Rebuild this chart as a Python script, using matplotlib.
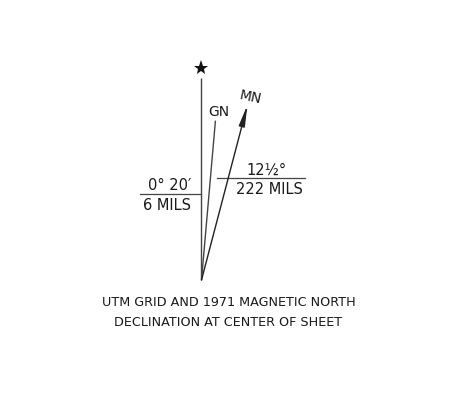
import numpy as np
import matplotlib.pyplot as plt

# Data: the declination diagram
line_names = ["TN", "GN", "MN"]
drawn_angles_deg = [0.0, 5.0, 14.7]      # drawn (exaggerated) angle from true north
line_lengths = [202, 160, 181]           # drawn lengths
grid_decl_label = ["0° 20′", "6 MILS"]
mag_decl_label = ["12½°", "222 MILS"]
caption = ["UTM GRID AND 1971 MAGNETIC NORTH", "DECLINATION AT CENTER OF SHEET"]

W, H = 460, 416
fig = plt.figure(figsize=(W / 100, H / 100), dpi=100)
ax = fig.add_axes([0, 0, 1, 1])
ax.set_xlim(0, W)
ax.set_ylim(H, 0)
ax.axis("off")

vx, vy = 201.5, 280
lc = "#444444"
ends = {}
for name, ang, L in zip(line_names, drawn_angles_deg, line_lengths):
    a = np.deg2rad(ang)
    ex, ey = vx + L * np.sin(a), vy - L * np.cos(a)
    ends[name] = (ex, ey)
    if name == "MN":
        ax.annotate("", xy=(ex, ey), xytext=(vx, vy),
                    arrowprops=dict(arrowstyle="-|>,head_length=1.25,head_width=0.18",
                                    color="#222222", lw=1.0, shrinkA=0, shrinkB=0,
                                    mutation_scale=10))
    else:
        ax.plot([vx, ex], [vy, ey], color=lc, lw=1.0, solid_capstyle="butt")

# star at top of true north
tx, ty = ends["TN"]
ax.plot([tx], [ty - 10], marker="*", markersize=11, color="#111111", markeredgewidth=0)

fs_lab = 10.5
txtc = "#1a1a1a"
gx, gy = ends["GN"]
ax.text(gx + 3, gy - 9, "GN", ha="center", va="center", fontsize=10, color=txtc)
mx, my = ends["MN"]
ax.text(mx + 3, my - 8, "MN", ha="center", va="center", fontsize=10, color=txtc, rotation=-12)

# grid declination label (left)
ax.plot([140, vx], [194, 194], color=lc, lw=0.9)
ax.text(170, 186, grid_decl_label[0], ha="center", va="center", fontsize=fs_lab, color=txtc)
ax.text(167, 205, grid_decl_label[1], ha="center", va="center", fontsize=fs_lab, color=txtc)

# magnetic declination label (right)
ax.plot([217, 305], [178, 178], color=lc, lw=0.9)
ax.text(267, 170, mag_decl_label[0], ha="center", va="center", fontsize=fs_lab, color=txtc)
ax.text(269, 189, mag_decl_label[1], ha="center", va="center", fontsize=fs_lab, color=txtc)

# caption
ax.text(229, 302, caption[0], ha="center", va="center", fontsize=9.2, color=txtc)
ax.text(228, 322, caption[1], ha="center", va="center", fontsize=9.2, color=txtc)

fig.savefig("out.png", dpi=100, facecolor="white")
